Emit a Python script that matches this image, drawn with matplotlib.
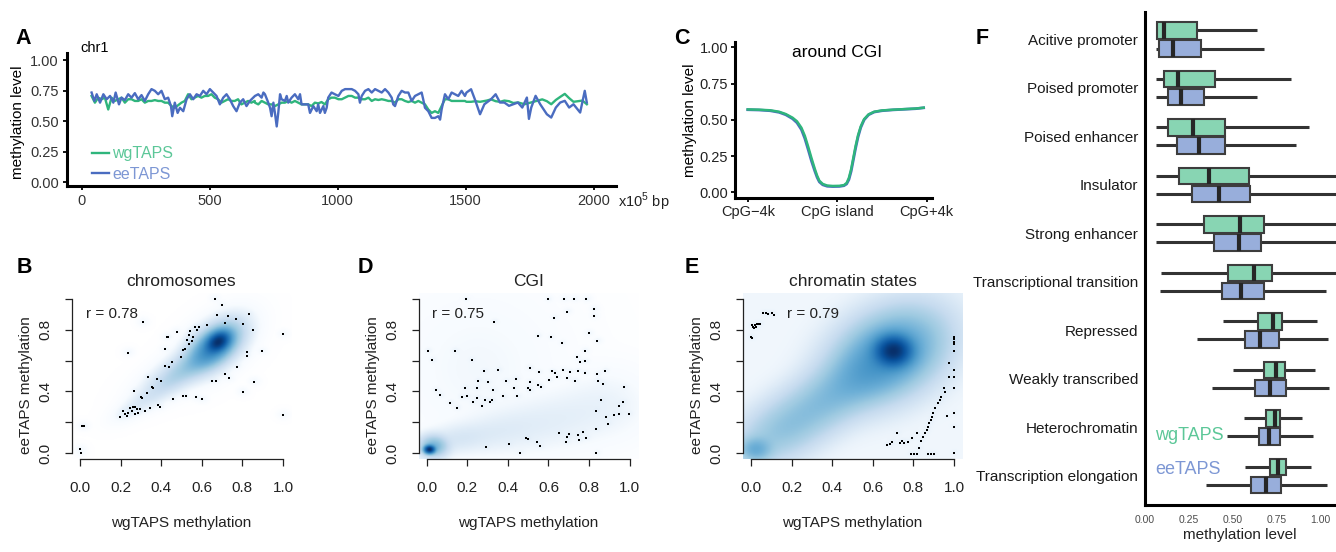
import numpy as np
import matplotlib.pyplot as plt
from matplotlib.colors import LinearSegmentedColormap

plt.rcParams['font.family'] = ['Liberation Sans', 'DejaVu Sans']
plt.rcParams['mathtext.fontset'] = 'custom'
plt.rcParams['mathtext.rm'] = 'Liberation Sans'

W, H = 1336, 552
GREEN = '#2fb57c'
BLUE = '#4a6cc0'
GREEN_TXT = '#5cc798'
BLUE_TXT = '#7d97d4'

# ---------------- A: chr1 methylation along the chromosome (x10^5 bp)
wg_pos = [39, 52, 65, 78, 91, 104, 117, 130, 143, 156, 169, 182, 195, 208, 221, 234, 247, 260, 273, 286,
          299, 312, 325, 338, 351, 364, 377, 390, 403, 416, 429, 442, 455, 468, 481, 494, 507, 520, 533, 546,
          559, 572, 585, 598, 611, 624, 637, 650, 663, 676,
          677, 690, 703, 716, 729, 742, 755, 768, 781, 794, 807, 820, 833, 846, 859, 872, 885, 898, 911, 924,
          937, 950, 963, 976, 989, 1003, 1016, 1029, 1042, 1055, 1068, 1081, 1094, 1107, 1120, 1133, 1146,
          1159, 1172, 1185, 1198, 1211, 1224, 1237, 1250, 1263, 1276, 1289, 1302, 1315, 1328, 1341, 1354,
          1367, 1380, 1393, 1406, 1419, 1432, 1445, 1458, 1471, 1484, 1497,
          1503, 1521, 1538, 1556, 1582, 1599, 1617, 1634, 1651, 1669, 1686, 1704, 1730, 1747, 1773, 1799,
          1817, 1834, 1852, 1869, 1887, 1904, 1921, 1939, 1956, 1973]
wg_val = [.708, .653, .694, .681, .694, .597, .694, .667, .681, .694, .653, .681, .681, .667, .667, .681, .653,
          .667, .667, .674, .667, .667, .653, .653, .625, .611, .632, .653, .667, .722, .681, .694, .708, .694,
          .708, .708, .722, .694, .681, .653, .667, .681, .667, .667, .681, .639, .653, .667, .653, .667,
          .653, .639, .667, .653, .639, .639, .625, .639, .653, .653, .667, .653, .667, .653, .639, .639, .639,
          .625, .653, .647, .658, .639, .681, .694, .694, .681, .681, .694, .708, .708, .694, .694, .681, .681,
          .694, .667, .681, .675, .681, .675, .667, .667, .653, .681, .681, .667, .658, .667, .653, .667, .653,
          .639, .597, .569, .583, .569, .625, .681, .681, .667, .667, .667, .667, .667,
          .66, .66, .665, .66, .67, .68, .665, .66, .67, .665, .65, .655, .64, .65, .665, .68, .665, .64, .675,
          .70, .725, .69, .66, .665, .67, .64]
ee_pos = [39, 50, 59, 72, 85, 98, 111, 124, 133, 146, 156, 169, 182, 195, 208, 221, 234, 247, 260, 273, 286,
          299, 312, 325, 338, 349, 354, 364, 375, 384, 397, 410, 423, 436, 449, 462, 475, 488, 501, 514, 527,
          540, 553, 566, 579, 592, 605, 618, 631, 644, 657, 670,
          677, 690, 703, 710, 716, 729, 736, 742, 749, 755, 762, 768, 775, 781, 794, 801, 807, 820, 833, 846,
          853, 859, 872, 885, 892, 905, 918, 924, 931, 944, 950, 957, 963, 976, 989, 1003, 1016, 1029, 1042,
          1055, 1068, 1081, 1087, 1094, 1107, 1120, 1133, 1146, 1159, 1172, 1185, 1198, 1211, 1217, 1224,
          1237, 1250, 1263, 1276, 1289, 1302, 1315, 1328, 1334, 1341, 1354, 1367, 1380, 1393, 1400, 1406,
          1419, 1432, 1445, 1458, 1471, 1484, 1497,
          1503, 1521, 1538, 1556, 1573, 1599, 1617, 1634, 1651, 1669, 1686, 1704, 1721, 1739, 1747, 1756,
          1773, 1791, 1817, 1834, 1852, 1869, 1887, 1904, 1921, 1947, 1965, 1973]
ee_val = [.736, .667, .722, .653, .722, .681, .708, .653, .736, .639, .694, .674, .722, .694, .731, .681, .715,
          .667, .722, .764, .75, .722, .75, .681, .694, .625, .542, .653, .569, .611, .583, .681, .722, .681,
          .722, .708, .75, .722, .764, .736, .708, .639, .694, .722, .681, .625, .583, .653, .681, .625, .667,
          .694,
          .708, .722, .694, .736, .722, .653, .611, .542, .653, .569, .458, .569, .722, .681, .667, .708, .653,
          .694, .722, .681, .722, .639, .639, .639, .569, .625, .583, .639, .569, .625, .569, .611, .694, .736,
          .722, .708, .75, .764, .764, .764, .75, .722, .653, .708, .75, .764, .736, .764, .75, .736, .764, .736,
          .694, .639, .625, .708, .75, .736, .736, .667, .708, .722, .736, .681, .611, .583, .528, .528, .542,
          .514, .597, .722, .681, .736, .722, .708, .75, .708,
          .736, .763, .668, .558, .64, .681, .722, .654, .654, .627, .64, .654, .613, .695, .52, .613, .709,
          .64, .558, .531, .613, .654, .668, .613, .64, .572, .75, .654]

# ---------------- C: profile around CpG islands (kb)
cgi_kb = [-4.0, -3.5, -3.0, -2.6, -2.3, -2.0, -1.8, -1.6, -1.45, -1.3, -1.15, -1.0, -0.9, -0.8, -0.65,
          -0.45, -0.2, 0.1, 0.3, 0.42, 0.52, 0.62, 0.72, 0.82, 0.93, 1.05, 1.2, 1.4, 1.65, 2.0, 2.5, 3.0,
          3.5, 3.86]
cgi_wg = [.572, .570, .566, .556, .540, .515, .490, .445, .390, .315, .235, .160, .115, .080, .058, .047,
          .044, .045, .050, .065, .100, .160, .240, .320, .395, .455, .505, .538, .556, .565, .570, .574,
          .578, .584]
cgi_ee = [.570, .568, .563, .552, .535, .508, .480, .432, .372, .295, .215, .145, .103, .072, .052, .042,
          .040, .041, .046, .058, .088, .145, .225, .305, .383, .447, .500, .535, .554, .563, .569, .573,
          .577, .583]

# ---------------- F: boxplots per chromatin state
states = ['Acitive promoter', 'Poised promoter', 'Poised enhancer', 'Insulator', 'Strong enhancer',
          'Transcriptional transition', 'Repressed', 'Weakly transcribed', 'Heterochromatin',
          'Transcription elongation']
wg_lo = [0.06, 0.06, 0.06, 0.06, 0.06, 0.091, 0.445, 0.504, 0.568, 0.574]
wg_q1 = [0.066, 0.106, 0.129, 0.195, 0.337, 0.473, 0.646, 0.678, 0.691, 0.712]
wg_med = [0.11, 0.189, 0.275, 0.366, 0.542, 0.621, 0.729, 0.748, 0.74, 0.759]
wg_q3 = [0.295, 0.40, 0.456, 0.593, 0.678, 0.725, 0.782, 0.797, 0.773, 0.807]
wg_hi = [0.64, 0.833, 0.939, 1.1, 1.1, 1.1, 0.981, 0.972, 0.896, 0.947]
ee_lo = [0.06, 0.06, 0.06, 0.06, 0.06, 0.085, 0.295, 0.381, 0.466, 0.347]
ee_q1 = [0.081, 0.134, 0.182, 0.271, 0.394, 0.441, 0.574, 0.631, 0.65, 0.606]
ee_med = [0.161, 0.205, 0.309, 0.422, 0.536, 0.551, 0.659, 0.712, 0.71, 0.691]
ee_q3 = [0.322, 0.337, 0.456, 0.598, 0.663, 0.682, 0.767, 0.805, 0.773, 0.777]
ee_hi = [0.678, 0.64, 0.862, 1.1, 1.1, 1.032, 1.044, 1.053, 0.958, 1.038]

# ---------------- B/D/E: smoothScatter density shapes (x, y, sd_x, sd_y, rho, weight) + sparse points
chrom_blobs = [(0.68, 0.72, 0.03, 0.035, 0.3, 1.0), (0.66, 0.69, 0.06, 0.07, 0.5, 0.35),
               (0.58, 0.60, 0.07, 0.06, 0.6, 0.05), (0.50, 0.52, 0.07, 0.055, 0.6, 0.025),
               (0.42, 0.44, 0.06, 0.05, 0.6, 0.012), (0.33, 0.35, 0.05, 0.04, 0.6, 0.005),
               (0.25, 0.28, 0.04, 0.035, 0.6, 0.002)]
chrom_x = [0.665, 0.698, 0.673, 0.731, 0.767, 0.834, 0.805, 0.85, 0.714, 0.624, 0.586, 0.567, 0.575, 0.542,
           0.538, 0.558, 0.55, 0.529, 0.538, 0.517, 0.509, 0.497, 0.476, 0.435, 0.427, 0.419, 0.451, 0.44,
           0.419, 0.381, 0.397, 0.333, 0.353, 0.361, 0.328, 0.304, 0.299, 0.268, 0.383, 0.394, 0.345, 0.32,
           0.296, 0.279, 0.273, 0.263, 0.255, 0.246, 0.238, 0.222, 0.213, 0.197, 0.271, 0.287, 0.23, 0.456,
           0.509, 0.52, 0.571, 0.602, 0.649, 0.67, 0.714, 0.734, 0.775, 0.821, 0.824, 0.895, 0.857, 0.801,
           1.0, 1.0, 0.01, 0.02, 0.0, 0.005, 0.309, 0.238]
chrom_y = [1.0, 0.961, 0.896, 0.89, 0.87, 0.9, 0.835, 0.799, 0.846, 0.829, 0.816, 0.82, 0.799, 0.794, 0.766,
           0.755, 0.729, 0.733, 0.708, 0.673, 0.669, 0.626, 0.788, 0.755, 0.751, 0.673, 0.593, 0.561, 0.565,
           0.478, 0.469, 0.495, 0.426, 0.424, 0.387, 0.355, 0.361, 0.405, 0.312, 0.301, 0.29, 0.275, 0.286,
           0.286, 0.301, 0.297, 0.275, 0.29, 0.262, 0.251, 0.275, 0.236, 0.253, 0.257, 0.24, 0.348, 0.37,
           0.37, 0.361, 0.348, 0.469, 0.469, 0.513, 0.485, 0.561, 0.658, 0.63, 0.662, 0.463, 0.398, 0.771,
           0.247, 0.175, 0.175, 0.023, 0.0, 0.848, 0.651]

cgi_blobs = [(0.01, 0.02, 0.014, 0.014, 0.0, 1.0), (0.03, 0.04, 0.035, 0.035, 0.0, 0.08),
             (0.15, 0.09, 0.09, 0.05, 0.3, 0.004), (0.35, 0.14, 0.11, 0.07, 0.3, 0.002),
             (0.55, 0.19, 0.12, 0.09, 0.3, 0.0013), (0.75, 0.25, 0.12, 0.11, 0.3, 0.0009),
             (0.90, 0.30, 0.10, 0.11, 0.0, 0.0005), (0.25, 0.55, 0.20, 0.25, 0.0, 0.0003)]
cgi_x = [0.192, 0.598, 0.677, 0.726, 0.787, 0.693, 0.823, 0.823, 0.628, 0.333, 0.549, 0.611, 0.798, 0.841,
         0.667, 0.779, 0.742, 0.757, 0.782, 0.005, 0.139, 0.028, 0.221, 0.283, 0.352, 0.508, 0.552, 0.615,
         0.631, 0.672, 0.705, 0.746, 0.779, 0.841, 0.88, 0.254, 0.3, 0.393, 0.438, 0.508, 0.549, 0.602,
         0.644, 0.692, 0.729, 0.844, 0.869, 0.188, 0.246, 0.328, 0.431, 0.5, 0.562, 0.044, 0.065, 0.172,
         0.197, 0.246, 0.287, 0.32, 0.377, 0.447, 0.508, 0.115, 0.147, 0.229, 0.27, 0.311, 0.861, 0.836,
         0.946, 0.967, 0.972, 0.947, 0.885, 0.893, 0.836, 0.651, 0.693, 0.702, 0.746, 0.77, 0.787, 0.749,
         0.688, 0.557, 0.541, 0.5, 0.487, 0.405, 0.29, 0.459, 0.836, 0.923, 0.995]
cgi_y = [0.998, 0.998, 0.998, 0.998, 0.998, 0.918, 0.933, 0.89, 0.879, 0.853, 0.76, 0.75, 0.776, 0.728,
         0.713, 0.664, 0.621, 0.588, 0.595, 0.664, 0.664, 0.603, 0.603, 0.531, 0.541, 0.552, 0.524, 0.531,
         0.518, 0.539, 0.529, 0.535, 0.52, 0.513, 0.535, 0.47, 0.459, 0.466, 0.481, 0.459, 0.444, 0.474,
         0.492, 0.487, 0.47, 0.47, 0.449, 0.423, 0.423, 0.406, 0.423, 0.423, 0.427, 0.406, 0.374, 0.363,
         0.367, 0.359, 0.341, 0.341, 0.367, 0.367, 0.406, 0.324, 0.293, 0.33, 0.308, 0.33, 0.341, 0.276,
         0.308, 0.33, 0.427, 0.254, 0.233, 0.19, 0.158, 0.13, 0.104, 0.121, 0.119, 0.136, 0.1, 0.087,
         0.072, 0.043, 0.072, 0.093, 0.1, 0.057, 0.039, 0.0, 0.0, 0.25, 0.254]

state_blobs = [(0.70, 0.66, 0.05, 0.055, 0.0, 1.0), (0.68, 0.64, 0.14, 0.15, 0.3, 0.2),
               (0.10, 0.10, 0.11, 0.11, 0.3, 0.03), (0.20, 0.19, 0.11, 0.11, 0.3, 0.03),
               (0.30, 0.28, 0.11, 0.11, 0.3, 0.03), (0.40, 0.37, 0.11, 0.11, 0.3, 0.035),
               (0.50, 0.46, 0.11, 0.11, 0.3, 0.04), (0.60, 0.55, 0.11, 0.11, 0.3, 0.045),
               (0.02, 0.02, 0.045, 0.045, 0.0, 0.1)]
state_x = [0.061, 0.074, 0.086, 0.102, 0.111, 0.003, 0.02, 0.028, 0.036, 0.045, 0.008, 0.025, 0.0, 0.003,
           0.016, 1.0, 1.0, 1.0, 1.0, 1.0, 1.0, 1.0, 1.0, 1.0, 1.0, 1.0, 0.977, 0.977, 0.949, 0.955, 0.936,
           0.929, 0.919, 0.908, 0.899, 0.891, 0.886, 0.878, 0.87, 0.866, 0.858, 0.845, 0.837, 0.828, 0.817,
           0.795, 0.771, 0.754, 0.746, 0.734, 0.721, 0.696, 0.672, 0.685, 0.965, 0.787, 0.804, 0.82, 0.87,
           0.886, 0.903]
state_y = [0.911, 0.907, 0.903, 0.907, 0.896, 0.831, 0.831, 0.838, 0.838, 0.838, 0.816, 0.816, 0.756, 0.745,
           0.81, 0.756, 0.738, 0.723, 0.708, 0.665, 0.539, 0.491, 0.42, 0.258, 0.171, 0.002, 0.582, 0.496,
           0.42, 0.398, 0.366, 0.344, 0.323, 0.29, 0.258, 0.236, 0.214, 0.193, 0.171, 0.149, 0.128, 0.106,
           0.08, 0.03, 0.128, 0.095, 0.074, 0.063, 0.08, 0.067, 0.128, 0.074, 0.052, 0.058, 0.24, -0.006,
           -0.006, -0.006, -0.006, -0.006, -0.006]

blues9 = ['#F7FBFF', '#DEEBF7', '#C6DBEF', '#9ECAE1', '#6BAED6', '#4292C6', '#2171B5', '#08519C', '#08306B']
smooth_cmap = LinearSegmentedColormap.from_list('smooth', ['white'] + blues9)

fig = plt.figure(figsize=(W / 100, H / 100), dpi=100)


def px_axes(l, t, r, b):
    return fig.add_axes([l / W, 1 - b / H, (r - l) / W, (b - t) / H])


def px_text(x, y, s, **kw):
    fig.text(x / W, 1 - y / H, s, **kw)


def letter(x, y, s):
    px_text(x, y, s, fontsize=15.5, fontweight='bold', ha='center', va='center')


# ---------------- panel A
ax = px_axes(67, 53, 616, 186)
ax.plot(wg_pos, wg_val, color=GREEN, lw=1.7, label='wgTAPS')
ax.plot(ee_pos, ee_val, color=BLUE, lw=1.7, label='eeTAPS')
ax.set_xlim(-57, 2087)
ax.set_ylim(-0.03, 1.06)
ax.set_xticks([0, 500, 1000, 1500, 2000])
ax.set_yticks([0, 0.25, 0.5, 0.75, 1.0])
ax.set_yticklabels(['0.00', '0.25', '0.50', '0.75', '1.00'])
for s in ['top', 'right']:
    ax.spines[s].set_visible(False)
for s in ['left', 'bottom']:
    ax.spines[s].set_linewidth(2.2)
ax.tick_params(length=3, width=1.3, labelsize=10.5, labelcolor='#333333', pad=3)
leg = ax.legend(loc='lower left', bbox_to_anchor=(0.045, 0.03), frameon=False, fontsize=11.5,
                handlelength=1.1, handletextpad=0.2, labelspacing=0.35, borderpad=0, borderaxespad=0)
for t, c in zip(leg.get_texts(), [GREEN_TXT, BLUE_TXT]):
    t.set_color(c)
letter(23, 38, 'A')
px_text(80, 48, 'chr1', fontsize=10.5, va='center')
px_text(618, 202, r'x10$^{5}$ bp', fontsize=10.5, va='center', color='#222222')
px_text(18, 122, 'methylation level', fontsize=11, rotation=90, ha='center', va='center')

# ---------------- panel C
ax = px_axes(735, 41.7, 931.7, 198.3)
ax.plot(cgi_kb, cgi_ee, color=BLUE, lw=2.0)
ax.plot(cgi_kb, cgi_wg, color=GREEN, lw=1.8)
ax.set_xlim(-4.57, 4.22)
ax.set_ylim(-0.041, 1.039)
ax.set_xticks([-4, 0, 4])
ax.set_xticklabels(['CpG\u22124k', 'CpG island', 'CpG+4k'])
ax.set_yticks([0, 0.25, 0.5, 0.75, 1.0])
ax.set_yticklabels(['0.00', '0.25', '0.50', '0.75', '1.00'])
for s in ['top', 'right']:
    ax.spines[s].set_visible(False)
for s in ['left', 'bottom']:
    ax.spines[s].set_linewidth(2.2)
ax.tick_params(length=3, width=1.3, labelsize=10.5, labelcolor='#222222', pad=2)
ax.text(0.519, 0.928, 'around CGI', transform=ax.transAxes, fontsize=12.5, ha='center', va='center')
letter(682, 38, 'C')
px_text(690, 120, 'methylation level', fontsize=11, rotation=90, ha='center', va='center')

# ---------------- panels B, D, E
grid = np.linspace(-0.04, 1.04, 260)
gx, gy = np.meshgrid(grid, grid)


def smooth_panel(left, blobs, pts_x, pts_y, floor, title, rtext, let, let_x, r_x):
    dens = np.full(gx.shape, floor)
    for cx, cy, sx, sy, rho, w in blobs:
        dx = (gx - cx) / sx
        dy = (gy - cy) / sy
        dens += w * np.exp(-0.5 * (dx ** 2 - 2 * rho * dx * dy + dy ** 2) / (1 - rho ** 2))
    for px, py in zip(pts_x, pts_y):
        dens += 4e-4 * np.exp(-0.5 * ((gx - px) ** 2 + (gy - py) ** 2) / 0.012 ** 2)
    img = (dens / dens.max()) ** 0.25

    ax = px_axes(left, 292.8, left + 219.2, 459.2)
    ax.imshow(img, extent=(-0.04, 1.04, -0.04, 1.04), origin='lower', cmap=smooth_cmap,
              vmin=0, vmax=1, aspect='auto', interpolation='bilinear')
    ax.scatter(pts_x, pts_y, s=2.5, c='black', marker='s', linewidths=0, zorder=3)
    ax.set_xlim(-0.04, 1.04)
    ax.set_ylim(-0.04, 1.04)
    for s in ['top', 'right']:
        ax.spines[s].set_visible(False)
    for s in ['left', 'bottom']:
        ax.spines[s].set_bounds(0, 1)
        ax.spines[s].set_linewidth(0.9)
        ax.spines[s].set_color('#222222')
    ticks = [0, 0.2, 0.4, 0.6, 0.8, 1.0]
    ax.set_xticks(ticks)
    ax.set_xticklabels(['0.0', '0.2', '0.4', '0.6', '0.8', '1.0'])
    ax.set_yticks(ticks)
    ax.set_yticklabels(['0.0', '', '0.4', '', '0.8', ''], rotation=90, va='center')
    ax.tick_params(length=5, width=0.9, color='#222222', labelsize=11, labelcolor='#222222')
    ax.tick_params(axis='x', pad=11)
    ax.tick_params(axis='y', pad=9)
    cx = left + 109.6
    px_text(cx, 281, title, fontsize=12.5, ha='center', va='center', color='#222222')
    px_text(r_x, 314, rtext, fontsize=11, ha='left', va='center', color='#222222')
    px_text(cx, 523, 'wgTAPS methylation', fontsize=11, ha='center', va='center', color='#222222')
    px_text(left - 46, 385, 'eeTAPS methylation', fontsize=11, rotation=90, ha='center', va='center',
            color='#222222')
    letter(let_x, 268, let)


smooth_panel(71.9, chrom_blobs, chrom_x, chrom_y, 0.0, 'chromosomes', 'r = 0.78', 'B', 24, 86)
smooth_panel(418.6, cgi_blobs, cgi_x, cgi_y, 0.0, 'CGI', 'r = 0.75', 'D', 365, 432)
smooth_panel(742.9, state_blobs, state_x, state_y, 5e-4, 'chromatin states', 'r = 0.79', 'E', 692, 787)

# ---------------- panel F
ax = px_axes(1145, 11.7, 1336, 505)
ypos = np.arange(len(states))
off, bh = 0.186, 0.342
for yy, lo, q1, med, q3, hi, fill in [(ypos - off, wg_lo, wg_q1, wg_med, wg_q3, wg_hi, '#88d5b3'),
                                      (ypos + off, ee_lo, ee_q1, ee_med, ee_q3, ee_hi, '#98aedb')]:
    ax.hlines(yy, lo, hi, color='#333333', lw=2.2, zorder=1)
    ax.barh(yy, np.array(q3) - np.array(q1), left=q1, height=bh, color=fill,
            edgecolor='#3d3d3d', linewidth=1.5, zorder=2)
    ax.vlines(med, yy - bh / 2, yy + bh / 2, color='#262626', lw=3, zorder=3)
ax.set_xlim(0.006, 1.091)
ax.set_ylim(9.6, -0.573)
ax.set_yticks(ypos)
ax.set_yticklabels(states)
ax.set_xticks([0, 0.25, 0.5, 0.75, 1.0])
ax.set_xticklabels(['0.00', '0.25', '0.50', '0.75', '1.00'])
for s in ['top', 'right']:
    ax.spines[s].set_visible(False)
for s in ['left', 'bottom']:
    ax.spines[s].set_linewidth(2.2)
ax.tick_params(axis='y', length=0, pad=5, labelsize=11, labelcolor='#1a1a1a')
ax.tick_params(axis='x', length=0, pad=7, labelsize=7.5, labelcolor='#4d4d4d')
px_text(1155, 436, 'wgTAPS', fontsize=13, color=GREEN_TXT, ha='left', va='center')
px_text(1155, 470, 'eeTAPS', fontsize=13, color=BLUE_TXT, ha='left', va='center')
px_text(1240, 535, 'methylation level', fontsize=11, ha='center', va='center', color='#222222')
letter(982, 38, 'F')

fig.savefig('out.png', dpi=100)
